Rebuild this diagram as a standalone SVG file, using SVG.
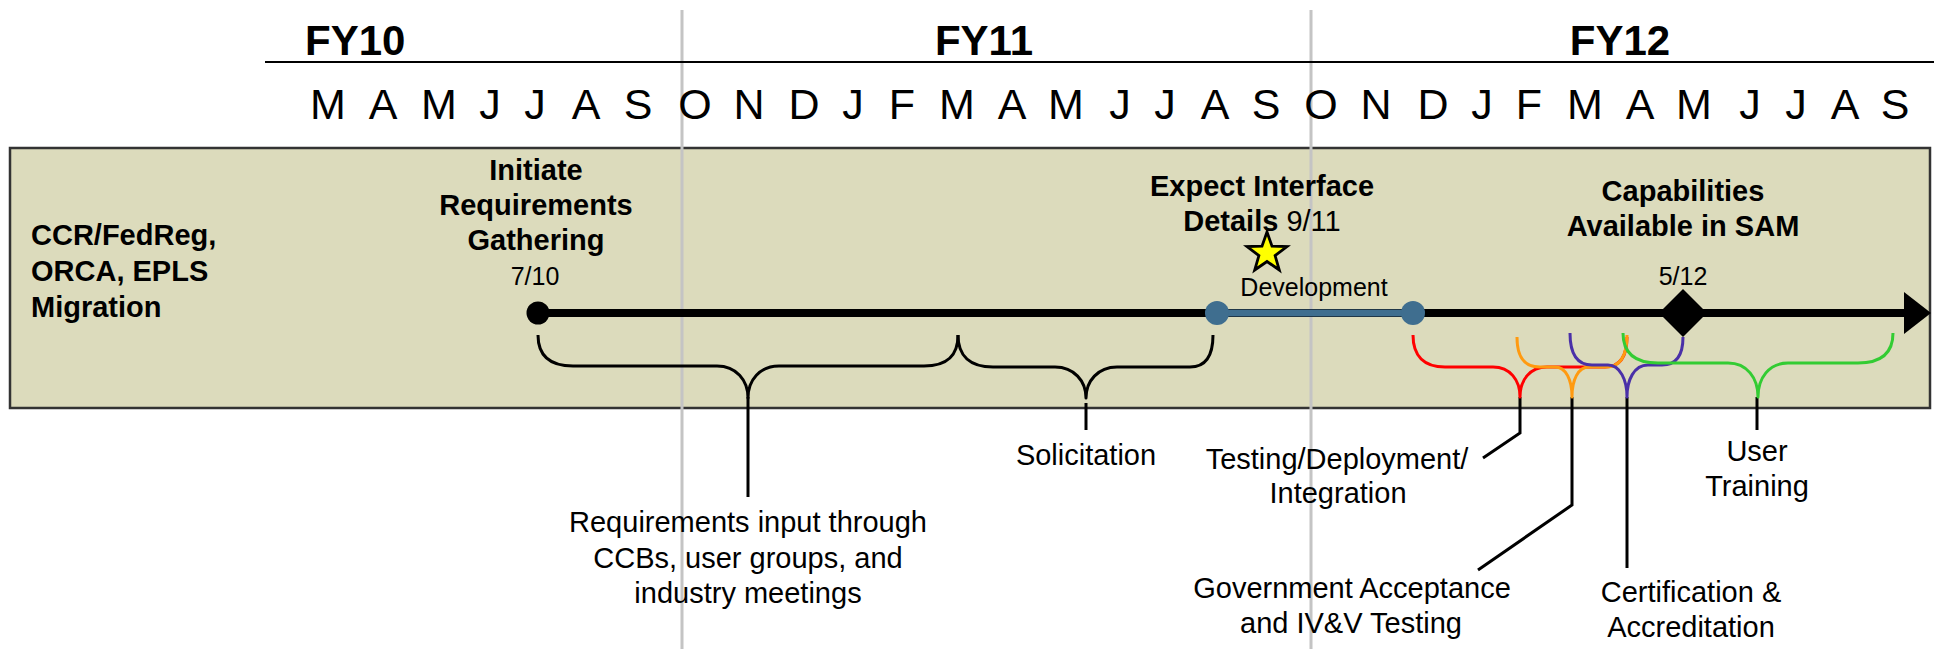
<svg xmlns="http://www.w3.org/2000/svg" width="1934" height="649" viewBox="0 0 1934 649">
<style>
text{font-family:"Liberation Sans",Arial,Helvetica,sans-serif;fill:#000}
.fy{font-size:42px;font-weight:bold}
.mo{font-size:43px;text-anchor:middle}
.ttl{font-size:29px;font-weight:bold;text-anchor:middle}
.lbl{font-size:29px;text-anchor:middle}
.date{font-size:25px;text-anchor:middle}
.br{fill:none;stroke-width:3;stroke-linejoin:round;stroke-linecap:butt}
.ptr{fill:none;stroke:#000;stroke-width:3}
.grid{stroke:#c4c4c4;stroke-width:3}
</style>
<rect width="1934" height="649" fill="#fff"/>
<g id="band">
<rect x="10" y="148" width="1920" height="260" fill="#dcdbbc" stroke="#333" stroke-width="2.5"/>
</g>
<g id="grid">
<line class="grid" x1="682" y1="10" x2="682" y2="649"/>
<line class="grid" x1="1311" y1="10" x2="1311" y2="649"/>
<line x1="265" y1="62" x2="1934" y2="62" stroke="#000" stroke-width="2.2"/>
</g>
<g id="header">
<text class="fy" x="305" y="55">FY10</text>
<text class="fy" x="984" y="55" text-anchor="middle">FY11</text>
<text class="fy" x="1620" y="55" text-anchor="middle">FY12</text>
<text class="mo" x="328 383 439 490 535 586 638" y="119">MAMJJAS</text>
<text class="mo" x="695 749 804 853 902 957 1012 1066 1120 1165 1215 1266" y="119">ONDJFMAMJJAS</text>
<text class="mo" x="1321 1376 1433 1482 1529 1585 1640 1694 1750 1796 1845 1895" y="119">ONDJFMAMJJAS</text>
</g>
<g id="row-label">
<text style="font-size:29px;font-weight:bold" x="31" y="245">CCR/FedReg,</text>
<text style="font-size:29px;font-weight:bold" x="31" y="281">ORCA, EPLS</text>
<text style="font-size:29px;font-weight:bold" x="31" y="317">Migration</text>
</g>
<g id="connectors">
<line x1="538" y1="313" x2="1908" y2="313" stroke="#000" stroke-width="8"/>
<polygon points="1904,292 1931,313 1904,334" fill="#000"/>
<line x1="1217" y1="313" x2="1413" y2="313" stroke="#3f6e8f" stroke-width="7"/>
<path class="ptr" d="M748,397 V497"/>
<path class="ptr" d="M1086,403 V430"/>
<path class="ptr" d="M1520,397 V433 L1483,458"/>
<path class="ptr" d="M1572,397 V505 L1478,570"/>
<path class="ptr" d="M1627,397 V568"/>
<path class="ptr" d="M1757,397 V430"/>
</g>
<g id="brace-requirements">
<path class="br" stroke="#000" d="M538,335 C538,356 550,366 573,366 L717,366 C736,366 748,380 748,398 C748,380 760,366 779,366 L924,366 C947,366 958,356 958,335"/>
<text class="lbl" x="748" y="532">Requirements input through</text>
<text class="lbl" x="748" y="568">CCBs, user groups, and</text>
<text class="lbl" x="748" y="603">industry meetings</text>
</g>
<g id="brace-solicitation">
<path class="br" stroke="#000" d="M958,335 C958,356 970,367 993,367 L1055,367 C1074,367 1086,381 1086,398 C1086,381 1098,367 1117,367 L1190,367 C1205,367 1213,356 1213,335"/>
<text class="lbl" x="1086" y="465">Solicitation</text>
</g>
<g id="brace-testing">
<path class="br" stroke="#ff0000" d="M1413,335 C1413,356 1424,367 1445,367 L1493,367 C1510,367 1520,380 1520,397 C1520,380 1530,367 1547,367 L1605,367 C1620,367 1627,356 1627,337"/>
<text class="lbl" x="1337" y="469">Testing/Deployment/</text>
<text class="lbl" x="1338" y="503">Integration</text>
</g>
<g id="brace-acceptance">
<path class="br" stroke="#ff9a10" d="M1517,337 C1517,357 1524,367 1540,367 L1555,367 C1566,367 1572,380 1572,397 C1572,380 1578,367 1589,367 L1606,367 C1620,367 1627,356 1627,335"/>
<text class="lbl" x="1352" y="598">Government Acceptance</text>
<text class="lbl" x="1351" y="633">and IV&amp;V Testing</text>
</g>
<g id="brace-certification">
<path class="br" stroke="#4a30a8" d="M1570,333 C1570,354 1577,365 1592,365 L1608,365 C1620,365 1627,380 1627,397 C1627,380 1634,365 1648,365 L1662,365 C1677,365 1683,354 1683,337"/>
<text class="lbl" x="1691" y="602">Certification &amp;</text>
<text class="lbl" x="1691" y="637">Accreditation</text>
</g>
<g id="brace-training">
<path class="br" stroke="#33cc33" d="M1623,333 C1623,353 1635,363 1658,363 L1728,363 C1747,363 1758,378 1758,397 C1758,378 1769,363 1788,363 L1858,363 C1881,363 1893,353 1893,333"/>
<text class="lbl" x="1757" y="461">User</text>
<text class="lbl" x="1757" y="496">Training</text>
</g>
<g id="milestone-initiate">
<circle cx="538" cy="313" r="11.5" fill="#000"/>
<text class="ttl" x="536" y="180">Initiate</text>
<text class="ttl" x="536" y="215">Requirements</text>
<text class="ttl" x="536" y="250">Gathering</text>
<text class="date" x="535" y="285">7/10</text>
</g>
<g id="milestone-expect">
<polygon points="1267,232 1272,246.1 1287,246.5 1275.1,255.6 1279.3,270 1267,261.5 1254.7,270 1258.9,255.6 1247,246.5 1262,246.1" fill="#ffff00" stroke="#000" stroke-width="2.8" stroke-linejoin="miter"/>
<text class="ttl" x="1262" y="196">Expect Interface</text>
<text style="font-size:29px;text-anchor:middle" x="1262" y="231"><tspan font-weight="bold">Details</tspan> 9/11</text>
</g>
<g id="phase-development">
<circle cx="1217" cy="313" r="12" fill="#3f6e8f"/>
<circle cx="1413" cy="313" r="12" fill="#3f6e8f"/>
<text class="date" x="1314" y="296">Development</text>
</g>
<g id="milestone-capabilities">
<polygon points="1683,289 1707,313 1683,337 1659,313" fill="#000"/>
<text class="ttl" x="1683" y="201">Capabilities</text>
<text class="ttl" x="1683" y="236">Available in SAM</text>
<text class="date" x="1683" y="285">5/12</text>
</g>
</svg>
